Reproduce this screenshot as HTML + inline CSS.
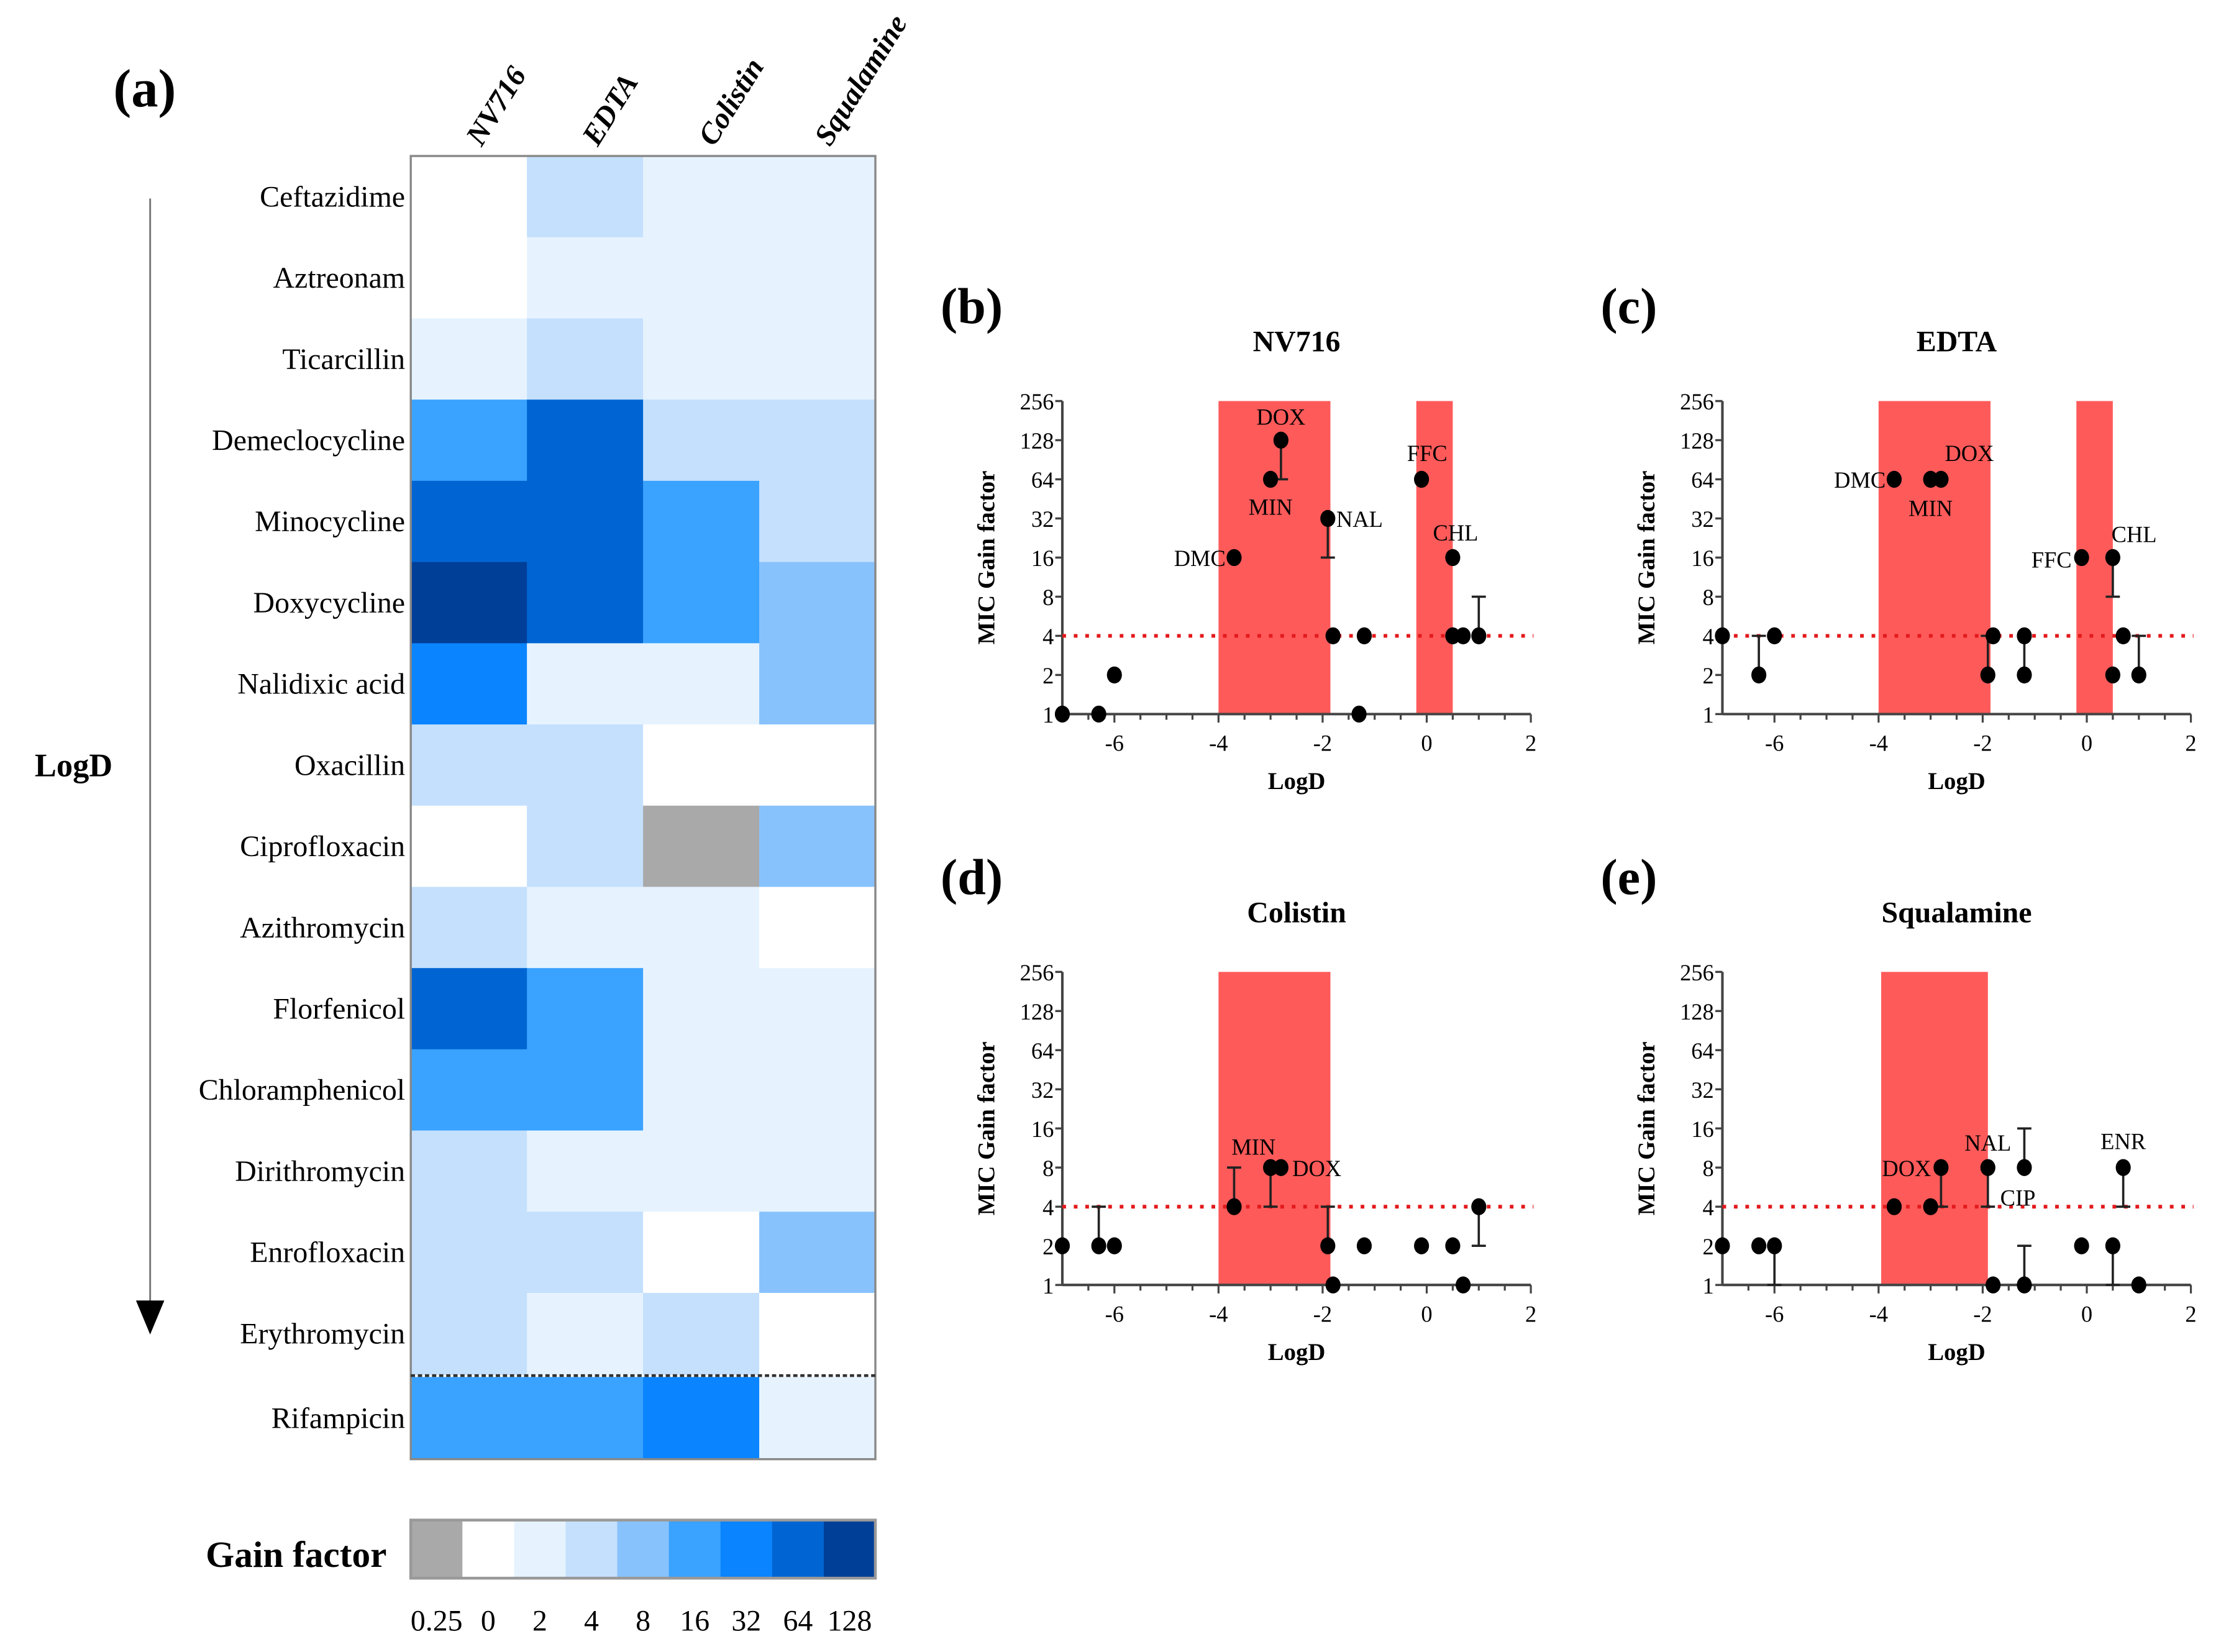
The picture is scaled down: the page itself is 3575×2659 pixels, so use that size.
<!DOCTYPE html>
<html><head><meta charset="utf-8"><style>
html,body{margin:0;padding:0;background:#fff;}
svg{display:block;font-family:"Liberation Serif",serif;}
</style></head><body>
<svg id="fig" width="3575" height="2659" viewBox="0 0 1568 1166" xmlns="http://www.w3.org/2000/svg"></svg>
<script>
// ---------- Heatmap data ----------
const drugs = ["Ceftazidime","Aztreonam","Ticarcillin","Demeclocycline","Minocycline","Doxycycline","Nalidixic acid","Oxacillin","Ciprofloxacin","Azithromycin","Florfenicol","Chloramphenicol","Dirithromycin","Enrofloxacin","Erythromycin","Rifampicin"];
const adjuvants = ["NV716","EDTA","Colistin","Squalamine"];
const valNV716 = [0,0,2,16,64,128,32,4,0,4,64,16,4,4,4,16];
const valEDTA = [4,2,4,64,64,64,2,4,4,2,16,16,2,4,2,16];
const valColistin = [2,2,2,4,16,16,2,0,0.25,2,2,2,2,0,4,32];
const valSqualamine = [2,2,2,4,4,8,8,0,8,0,2,2,2,8,0,2];
const legendLevels = [0.25,0,2,4,8,16,32,64,128];
const legendLabels = ["0.25","0","2","4","8","16","32","64","128"];
const levelColors = ["#a9a9a9","#ffffff","#e6f3ff","#c4e0fd","#88c2fd","#3aa2ff","#0a84ff","#0065d2","#003f98"];

// ---------- Scatter data ----------
const xTickVals = [-6,-4,-2,0,2];
const yTickVals = [1,2,4,8,16,32,64,128,256];
// panel b (NV716)
const bX = [-7,-6.3,-6,-3.7,-3,-2.8,-1.9,-1.8,-1.2,-1.3,-0.1,0.5,0.5,0.7,1];
const bY = [1,1,2,16,64,128,32,4,4,1,64,16,4,4,4];
const bErr = [0,0,0,0,0,64,16,0,0,0,0,0,0,0,8];
const bLab = ["","","","DMC","MIN","DOX","NAL","","","","FFC","CHL","","",""];
// panel c (EDTA)
const cX = [-7,-6.3,-6,-3.7,-3,-2.8,-1.9,-1.8,-1.2,-1.2,-0.1,0.5,0.5,0.7,1];
const cY = [4,2,4,64,64,64,2,4,4,2,16,16,2,4,2];
const cErr = [0,4,0,0,0,0,4,0,2,0,0,8,0,0,4];
const cLab = ["","","","DMC","MIN","DOX","","","","","FFC","CHL","","",""];
// panel d (Colistin)
const dX = [-7,-6.3,-6,-3.7,-3,-2.8,-1.9,-1.8,-1.2,-0.1,0.5,0.7,1];
const dY = [2,2,2,4,8,8,2,1,2,2,2,1,4];
const dErr = [0,4,0,8,4,0,4,0,0,0,0,0,2];
const dLab = ["","","","","MIN","DOX","","","","","","",""];
// panel e (Squalamine)
const eX = [-7,-6.3,-6,-3.7,-3,-2.8,-1.9,-1.8,-1.2,-1.2,-0.1,0.5,0.7,1];
const eY = [2,2,2,4,4,8,8,1,8,1,2,2,8,1];
const eErr = [0,0,1,0,0,4,4,0,16,2,0,1,4,0];
const eLab = ["","","","","","DOX","NAL","","","CIP","","","ENR",""];

// label placement (styling, per panel): [dx, dy, anchor]
const bLabPos = {DMC:[-6,6,"end"], MIN:[0,25,"middle"], DOX:[0,-11,"middle"], NAL:[6,6,"start"], FFC:[4,-13,"middle"], CHL:[2,-12,"middle"]};
const cLabPos = {DMC:[-6,6,"end"], MIN:[0,26,"middle"], DOX:[20,-13,"middle"], FFC:[-7,7,"end"], CHL:[15,-11,"middle"]};
const dLabPos = {MIN:[-12,-9,"middle"], DOX:[8,6,"start"]};
const eLabPos = {DOX:[-7,6,"end"], NAL:[0,-12,"middle"], CIP:[-17,-56,"start"], ENR:[0,-13,"middle"]};

const NS = "http://www.w3.org/2000/svg";
const svg = document.getElementById("fig");
function el(tag, attrs, parent, text){
  const e = document.createElementNS(NS, tag);
  for (const k in attrs) e.setAttribute(k, attrs[k]);
  if (text !== undefined) e.textContent = text;
  (parent || svg).appendChild(e);
  return e;
}
function colorFor(v){ return levelColors[legendLevels.indexOf(v)]; }

// ---------- Panel (a) ----------
const gA = el("g", {});


const t = el("text", {x:80, y:75, "font-size":38, "font-weight":"bold"}, gA, "(a)");


const hx0 = 290, cw = 82, hy0 = 110, rh = 57.33;
const cols = [valNV716, valEDTA, valColistin, valSqualamine];
function rowTop(i){ return i < 15 ? hy0 + i*rh : 972; }
function rowH(i){ return i < 15 ? rh : 58; }
for (let i = 0; i < drugs.length; i++){
  for (let j = 0; j < 4; j++){
    const r = el("rect", {x:hx0 + j*cw, y:rowTop(i), width:cw+0.5, height:rowH(i)+0.5, fill:colorFor(cols[j][i])}, gA);
    
    
  }
  const lb = el("text", {x:hx0-4, y:rowTop(i)+rowH(i)/2+7, "font-size":21, "text-anchor":"end"}, gA, drugs[i]);
  
  
}
const frame = el("rect", {x:hx0, y:hy0, width:4*cw, height:1030-hy0, fill:"none", stroke:"#888", "stroke-width":1.5}, gA);


const dl = el("line", {x1:hx0, x2:hx0+4*cw, y1:971, y2:971, stroke:"#333", "stroke-width":2, "stroke-dasharray":"3,2"}, gA);


for (let j = 0; j < 4; j++){
  const cx = hx0 + j*cw + 50, cy = 104;
  const ct = el("text", {x:cx, y:cy, "font-size":21, "font-weight":"bold", "font-style":"italic", transform:`rotate(-58 ${cx} ${cy})`}, gA, adjuvants[j]);
  
  
}
const al = el("line", {x1:106, x2:106, y1:140, y2:920, stroke:"#777", "stroke-width":1.3}, gA);


const ah = el("polygon", {points:"96,918 116,918 106,942", fill:"#000"}, gA);


const lt = el("text", {x:52, y:548, "font-size":23, "font-weight":"bold", "text-anchor":"middle"}, gA, "LogD");


// legend
const lw = 328/9;
for (let k = 0; k < legendLevels.length; k++){
  const r = el("rect", {x:hx0 + k*lw, y:1073, width:lw+0.5, height:41, fill:levelColors[k]}, gA);
  
  
  const tx = el("text", {x:hx0 + k*lw + lw/2, y:1151, "font-size":21, "text-anchor":"middle"}, gA, legendLabels[k]);
  
  
}
const lf = el("rect", {x:hx0, y:1073, width:328, height:41, fill:"none", stroke:"#999", "stroke-width":2}, gA);


const lgt = el("text", {x:273, y:1106, "font-size":26, "font-weight":"bold", "text-anchor":"end"}, gA, "Gain factor");



// ---------- Scatter panels ----------
function panel(opts){
  const {x0, yTop, yBot, X, Y, E, L, LP, bands, letter, title, name} = opts;
  const g = el("g", {});
  
  
  const ux = 36.75;
  const sx = v => x0 + (v + 7) * ux;
  const sy = v => yBot - Math.log2(v) * (yBot - yTop) / 8;
  bands.forEach(b => {
    const r = el("rect", {x:sx(b[0]), y:yTop, width:sx(b[1])-sx(b[0]), height:yBot-yTop, fill:"#ff5a5a"}, g);
    
    
  });
  const ya = el("line", {x1:x0, x2:x0, y1:yTop, y2:yBot, stroke:"#444", "stroke-width":1.8}, g);
  
  
  const xa = el("line", {x1:x0, x2:sx(2), y1:yBot, y2:yBot, stroke:"#444", "stroke-width":1.8}, g);
  
  
  yTickVals.forEach(v => {
    const tk = el("line", {x1:x0-5, x2:x0, y1:sy(v), y2:sy(v), stroke:"#444", "stroke-width":1.5}, g);
    
    
    const tl = el("text", {x:x0-6, y:sy(v)+6, "font-size":16, "text-anchor":"end"}, g, String(v));
    
    
  });
  for (let v = -6.5; v <= 2.01; v += 0.5){
    const major = Number.isInteger(v) && v % 2 === 0;
    const tk = el("line", {x1:sx(v), x2:sx(v), y1:yBot, y2:yBot+(major?6:4), stroke:"#444", "stroke-width":1.4}, g);
    
    
  }
  xTickVals.forEach(v => {
    const tl = el("text", {x:sx(v), y:yBot+26, "font-size":16, "text-anchor":"middle"}, g, String(v));
    
    
  });
  const thr = el("line", {x1:x0, x2:sx(2.05), y1:sy(4), y2:sy(4), stroke:"#e31a1c", "stroke-width":2.6, "stroke-dasharray":"2.6,5.5"}, g);
  
  
  for (let i = 0; i < X.length; i++){
    if (E[i]){
      const eb = el("line", {x1:sx(X[i]), x2:sx(X[i]), y1:sy(Y[i]), y2:sy(E[i]), stroke:"#222", "stroke-width":1.6}, g);
      
      
      const cap = el("line", {x1:sx(X[i])-5, x2:sx(X[i])+5, y1:sy(E[i]), y2:sy(E[i]), stroke:"#222", "stroke-width":1.6}, g);
      
      
    }
  }
  for (let i = 0; i < X.length; i++){
    const c = el("ellipse", {cx:sx(X[i]), cy:sy(Y[i]), rx:5.3, ry:6, fill:"#000"}, g);
    
    
    if (L[i]){
      const o = LP[L[i]];
      const tl = el("text", {x:sx(X[i])+o[0], y:sy(Y[i])+o[1], "font-size":16, "text-anchor":o[2]}, g, L[i]);
      
      
    }
  }
  const ytl = el("text", {x:x0-48, y:(yTop+yBot)/2, "font-size":17, "font-weight":"bold", "text-anchor":"middle", transform:`rotate(-90 ${x0-48} ${(yTop+yBot)/2})`}, g, "MIC Gain factor");
  
  
  const xtl = el("text", {x:sx(-2.5), y:yBot+53, "font-size":17, "font-weight":"bold", "text-anchor":"middle"}, g, "LogD");
  
  
  const tt = el("text", {x:sx(-2.5), y:yTop-35, "font-size":21, "font-weight":"bold", "text-anchor":"middle"}, g, title);
  
  
  const lt2 = el("text", {x:x0-86, y:yTop-55, "font-size":36, "font-weight":"bold"}, g, letter);
  
  
}
panel({x0:750, yTop:283, yBot:504, X:bX, Y:bY, E:bErr, L:bLab, LP:bLabPos, bands:[[-4,-1.85],[-0.2,0.5]], letter:"(b)", title:"NV716", name:"panel-b-nv716"});
panel({x0:1216, yTop:283, yBot:504, X:cX, Y:cY, E:cErr, L:cLab, LP:cLabPos, bands:[[-4,-1.85],[-0.2,0.5]], letter:"(c)", title:"EDTA", name:"panel-c-edta"});
panel({x0:750, yTop:686, yBot:907, X:dX, Y:dY, E:dErr, L:dLab, LP:dLabPos, bands:[[-4,-1.85]], letter:"(d)", title:"Colistin", name:"panel-d-colistin"});
panel({x0:1216, yTop:686, yBot:907, X:eX, Y:eY, E:eErr, L:eLab, LP:eLabPos, bands:[[-3.95,-1.9]], letter:"(e)", title:"Squalamine", name:"panel-e-squalamine"});
</script>
</body></html>
